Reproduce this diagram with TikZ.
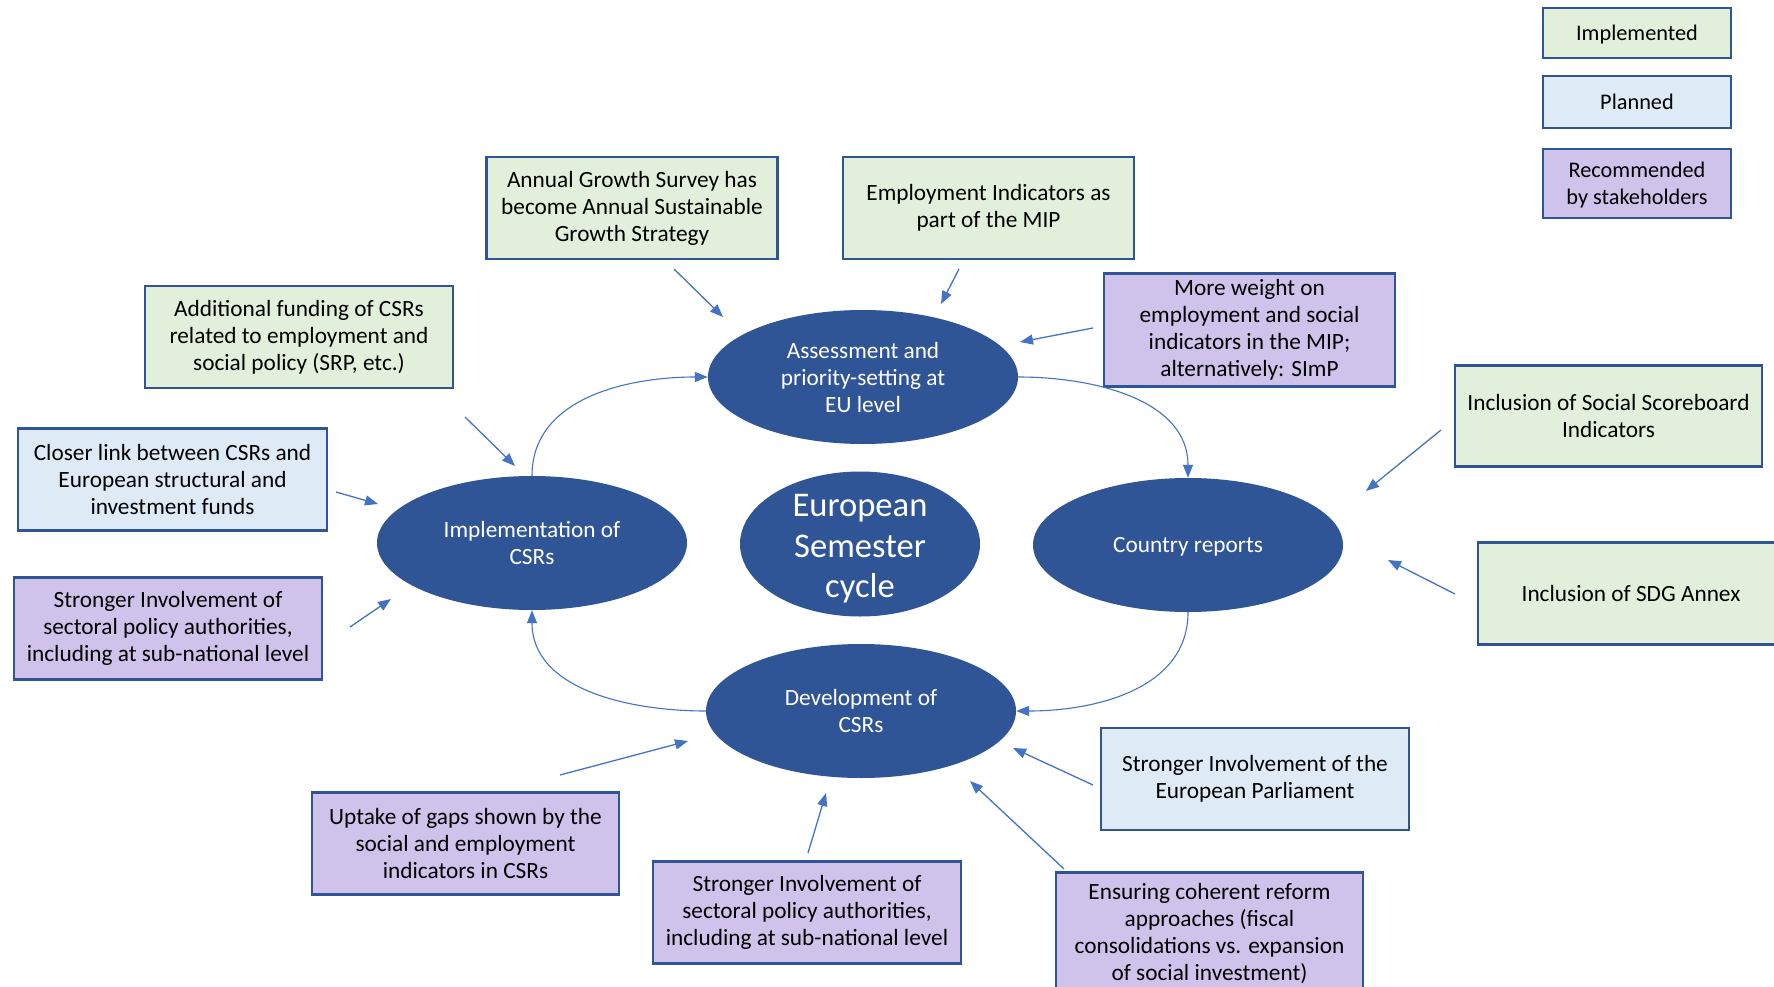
\documentclass[tikz,border=0pt]{standalone}
\usepackage{fontspec}
\setmainfont{Carlito}
\usetikzlibrary{shapes.geometric,arrows.meta}
\definecolor{bord}{HTML}{2F5597}
\definecolor{ellc}{HTML}{2F5597}
\definecolor{gfill}{HTML}{E2EFDA}
\definecolor{bfill}{HTML}{DEEBF7}
\definecolor{pfill}{HTML}{CFC3EC}
\definecolor{arrc}{HTML}{4472C4}
\tikzset{
  box/.style={draw=bord, line width=2.4pt, align=center, inner sep=2pt,
    font=\fontsize{23.3}{27}\selectfont, text=black},
  gbox/.style={box, fill=gfill},
  bbox/.style={box, fill=bfill},
  pbox/.style={box, fill=pfill},
  lbox/.style={font=\fontsize{22.3}{27}\selectfont, text depth=0pt},
  ell/.style={ellipse, fill=ellc, draw=none, text=white, align=center, inner sep=0pt,
    minimum width=310pt, minimum height=134pt, font=\fontsize{23.3}{27}\selectfont},
  arr/.style={draw=arrc, line width=1.3pt, -{Triangle[length=13pt,width=10pt]}},
  cyc/.style={draw=arrc, line width=1.1pt, -{Triangle[length=13pt,width=10pt]}}
}
\begin{document}
\begin{tikzpicture}[x=1pt,y=-1pt]
\useasboundingbox (0,0) rectangle (1774,987);
\fill[white] (0,0) rectangle (1774,987);
\clip (0,0) rectangle (1774,987);

% legend
\node[gbox, lbox, minimum width=188pt, minimum height=50pt] (lg1) at (1637,33) {Implemented};
\node[bbox, lbox, minimum width=188pt, minimum height=52pt] (lg2) at (1637,102) {Planned};
\node[pbox, lbox, minimum width=188pt, minimum height=69pt] (lg3) at (1637,183.5) {Recommended\\by stakeholders};

% ellipses
\node[ell] (A) at (863,377) {Assessment and\\priority-setting at\\EU level};
\node[ell] (I) at (532,543) {Implementation of\\CSRs};
\node[ell, text depth=0pt] (C) at (1188,545) {Country reports};
\node[ell] (D) at (861,711) {Development of\\CSRs};
\node[ellipse, fill=ellc, draw=none, inner sep=0pt,
  minimum width=240pt, minimum height=145pt] (E) at (860,544) {};
\node[text=white, align=center, inner sep=0pt,
  font=\fontsize{34.6}{40.5}\selectfont] (Et) at (860,549) {European\\Semester\\cycle};

% boxes
\node[gbox, minimum width=291pt, minimum height=102pt] (b1) at (632,208) {Annual Growth Survey has\\become Annual Sustainable\\Growth Strategy};
\node[gbox, minimum width=291pt, minimum height=102pt] (b2) at (988.5,208) {Employment Indicators as\\part of the MIP};
\node[pbox, minimum width=291pt, minimum height=113pt] (b3) at (1249.5,330) {More weight on\\employment and social\\indicators in the MIP;\\alternatively: SImP};
\node[gbox, minimum width=308pt, minimum height=102pt] (b4) at (299,337) {Additional funding of CSRs\\related to employment and\\social policy (SRP, etc.)};
\node[bbox, minimum width=309pt, minimum height=102pt] (b5) at (172.5,479.5) {Closer link between CSRs and\\European structural and\\investment funds};
\node[pbox, minimum width=308pt, minimum height=102pt] (b6) at (168,628.5) {Stronger Involvement of\\sectoral policy authorities,\\including at sub-national level};
\node[pbox, minimum width=307pt, minimum height=102pt] (b7) at (465.5,843.5) {Uptake of gaps shown by the\\social and employment\\indicators in CSRs};
\node[pbox, minimum width=308pt, minimum height=102pt] (b8) at (807,912.5) {Stronger Involvement of\\sectoral policy authorities,\\including at sub-national level};
\node[pbox, minimum width=307pt, minimum height=123pt] (b9) at (1209.5,934) {Ensuring coherent reform\\approaches (fiscal\\consolidations vs. expansion\\of social investment)};
\node[bbox, minimum width=308pt, minimum height=102pt] (b10) at (1255,779) {Stronger Involvement of the\\European Parliament};
\node[gbox, minimum width=307pt, minimum height=101pt] (b11) at (1608.5,416) {Inclusion of Social Scoreboard\\Indicators};
\node[gbox, minimum width=306pt, minimum height=102pt] (b12) at (1631,593.5) {Inclusion of SDG Annex};

% cycle connectors
\draw[cyc] (A.east) to[out=0,in=90] (C.north);
\draw[cyc] (C.south) to[out=-90,in=0] (D.east);
\draw[cyc] (D.west) to[out=180,in=-90] (I.south);
\draw[cyc] (I.north) to[out=90,in=180] (A.west);

% short arrows
\coordinate (s1) at (674,269);  \coordinate (e1) at (723,317);
\coordinate (s2) at (959,269);  \coordinate (e2) at (941,304);
\coordinate (s3) at (1093,328); \coordinate (e3) at (1020,342);
\coordinate (s4) at (465,417);  \coordinate (e4) at (515,466);
\coordinate (s5) at (336,492);  \coordinate (e5) at (378,504);
\coordinate (s6) at (350,627);  \coordinate (e6) at (391,599);
\coordinate (s7) at (560,775);  \coordinate (e7) at (688,741);
\coordinate (s8) at (808,853);  \coordinate (e8) at (826,793);
\coordinate (s9) at (1064,869); \coordinate (e9) at (970,781);
\coordinate (s10) at (1093,785); \coordinate (e10) at (1013,748);
\coordinate (s11) at (1441,430); \coordinate (e11) at (1366,491);
\coordinate (s12) at (1455,594); \coordinate (e12) at (1388,560);
\foreach \k in {1,...,12} { \draw[arr] (s\k) -- (e\k); }
\end{tikzpicture}
\end{document}
